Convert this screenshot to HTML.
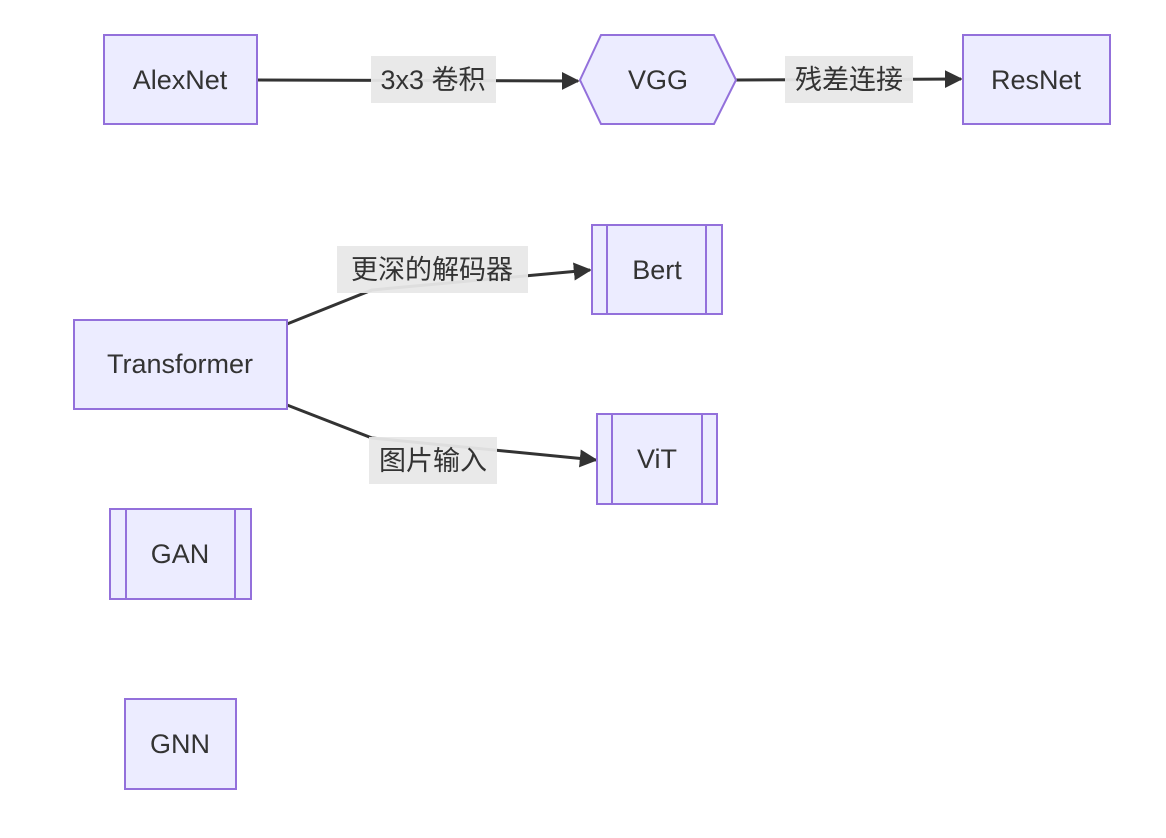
<!DOCTYPE html>
<html><head><meta charset="utf-8"><style>
html,body{margin:0;padding:0;background:#fff;}
svg{display:block;}
text{font-family:"Liberation Sans","Noto Sans CJK SC",sans-serif;font-size:27px;fill:#333;}
.n{fill:#ECECFF;stroke:#9370DB;stroke-width:2;}
.e{stroke:#333;stroke-width:3;fill:none;}
.lb{fill:#e8e8e8;opacity:0.95;}
</style></head><body>
<svg width="1166" height="838" viewBox="0 0 1166 838" xmlns="http://www.w3.org/2000/svg">
<defs><marker id="a" viewBox="0 0 10 10" refX="9" refY="5" markerWidth="6" markerHeight="6" orient="auto" markerUnits="userSpaceOnUse"><path d="M0,0L10,5L0,10z" fill="#333"/></marker>
<marker id="b" viewBox="0 0 10 10" refX="9" refY="5" markerWidth="18" markerHeight="18" orient="auto" markerUnits="userSpaceOnUse"><path d="M0,0L10,5L0,10z" fill="#333"/></marker></defs>
<!-- edges -->
<path class="e" d="M257,80 L578,81" marker-end="url(#b)"/>
<path class="e" d="M736,80 L961,79" marker-end="url(#b)"/>
<path class="e" d="M287,324 L372,290 L590,270" marker-end="url(#b)"/>
<path class="e" d="M287,405 L372,438 L596,460" marker-end="url(#b)"/>
<!-- labels -->
<rect class="lb" x="371" y="56" width="125" height="47"/><text x="433" y="89" text-anchor="middle">3x3 卷积</text>
<rect class="lb" x="785" y="56" width="128" height="47"/><text x="849" y="89" text-anchor="middle">残差连接</text>
<rect class="lb" x="337" y="246" width="191" height="47"/><text x="432" y="279" text-anchor="middle">更深的解码器</text>
<rect class="lb" x="369" y="437" width="128" height="47"/><text x="433" y="470" text-anchor="middle">图片输入</text>
<!-- nodes -->
<rect class="n" x="104" y="35" width="153" height="89"/><text x="180" y="89" text-anchor="middle">AlexNet</text>
<polygon class="n" points="580,80 601,35 714,35 736,80 714,124 601,124"/><text x="658" y="89" text-anchor="middle">VGG</text>
<rect class="n" x="963" y="35" width="147" height="89"/><text x="1036" y="89" text-anchor="middle">ResNet</text>
<rect class="n" x="592" y="225" width="130" height="89"/><line class="n" x1="607" y1="225" x2="607" y2="314"/><line class="n" x1="706" y1="225" x2="706" y2="314"/><text x="657" y="279" text-anchor="middle">Bert</text>
<rect class="n" x="74" y="320" width="213" height="89"/><text x="180" y="373" text-anchor="middle">Transformer</text>
<rect class="n" x="597" y="414" width="120" height="90"/><line class="n" x1="612" y1="414" x2="612" y2="504"/><line class="n" x1="702" y1="414" x2="702" y2="504"/><text x="657" y="468" text-anchor="middle">ViT</text>
<rect class="n" x="110" y="509" width="141" height="90"/><line class="n" x1="126" y1="509" x2="126" y2="599"/><line class="n" x1="235" y1="509" x2="235" y2="599"/><text x="180" y="563" text-anchor="middle">GAN</text>
<rect class="n" x="125" y="699" width="111" height="90"/><text x="180" y="753" text-anchor="middle">GNN</text>
</svg>
</body></html>
